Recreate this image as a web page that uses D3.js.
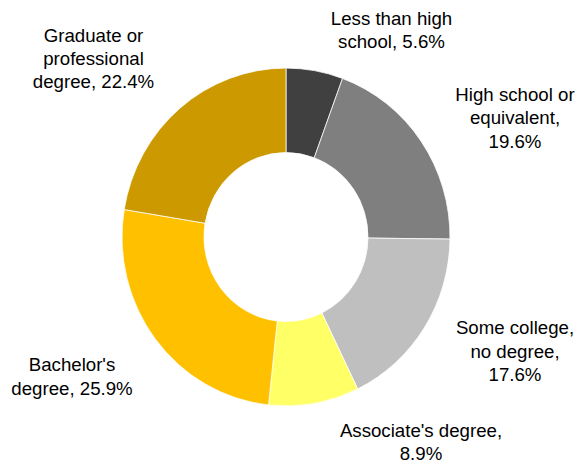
<!DOCTYPE html>
<html>
<head>
<meta charset="utf-8">
<script src="https://cdn.jsdelivr.net/npm/d3@7"></script>
<style>
  body { margin: 0; background: #fff; }
  text { font-family: "Liberation Sans", Arial, sans-serif; font-size: 18.67px; fill: #000; }
</style>
</head>
<body>
<div id="chart"></div>
<script>
// data
const categories = ["Less than high school", "High school or equivalent", "Some college, no degree",
    "Associate's degree", "Bachelor's degree", "Graduate or professional degree"];
const values = [5.6, 19.6, 17.6, 8.9, 25.9, 22.4];
const labelLines = [
    ["Less than high", "school, 5.6%"],
    ["High school or", "equivalent,", "19.6%"],
    ["Some college,", "no degree,", "17.6%"],
    ["Associate's degree,", "8.9%"],
    ["Bachelor's", "degree, 25.9%"],
    ["Graduate or", "professional", "degree, 22.4%"]
];
const colors = ["#404040", "#7f7f7f", "#bfbfbf", "#ffff66", "#ffc000", "#cc9a00"];

// label layout (center x, first baseline y)
const labelPos = [[391.5, 25], [515, 101], [515, 334.3], [421, 436.7], [72, 371.3], [93.5, 41.7]];

const width = 578;
const height = 463;
const cx = 286, cy = 237;
const outerR = 164, innerR = 82;
const yStretch = 1.03; // the original is slightly taller than wide
const lineH = 23.3;

const svg = d3.select("#chart")
    .append("svg")
    .attr("width", width)
    .attr("height", height);

const pie = d3.pie().sort(null).value(function(d) { return d; });
const arc = d3.arc().innerRadius(innerR).outerRadius(outerR);

const g = svg.append("g")
    .attr("transform", `translate(${cx},${cy}) scale(1,${yStretch})`);

g.selectAll("path")
    .data(pie(values))
    .enter()
    .append("path")
    .attr("d", arc)
    .attr("fill", function(d, i) { return colors[i]; })
    .attr("stroke", "#fff")
    .attr("stroke-width", 0.75);

// labels
const labels = svg.selectAll("text.lbl")
    .data(labelLines)
    .enter()
    .append("text")
    .attr("class", "lbl")
    .attr("text-anchor", "middle")
    .attr("x", function(d, i) { return labelPos[i][0]; })
    .attr("y", function(d, i) { return labelPos[i][1]; });

labels.each(function(lines, i) {
    d3.select(this).selectAll("tspan")
        .data(lines)
        .enter()
        .append("tspan")
        .attr("x", labelPos[i][0])
        .attr("y", function(l, j) { return labelPos[i][1] + j * lineH; })
        .text(function(l) { return l; });
});
</script>
</body>
</html>
